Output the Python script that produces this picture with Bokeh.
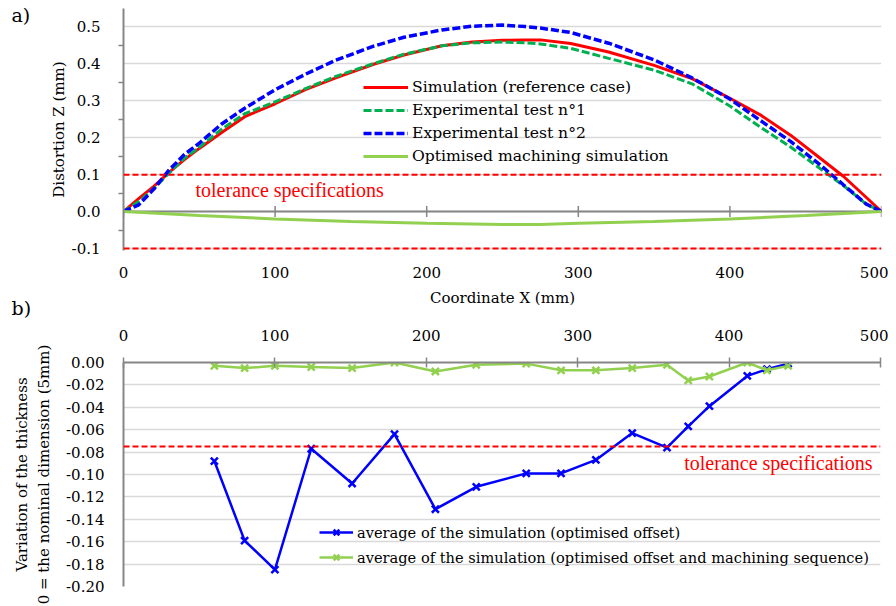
import math
from bokeh.plotting import figure
from bokeh.models import Span, Label, Legend, LegendItem, FixedTicker, PrintfTickFormatter, Range1d
from bokeh.layouts import column
from bokeh.embed import file_html
from bokeh.resources import INLINE
from bokeh.core.properties import value

FONT = "DejaVu Serif"
TOL_FONT = "Liberation Serif"
GRAY = "#868686"
GRID = "#d9d9d9"

# ---------------- panel a) data ----------------
x_a = [0, 10, 20, 30, 40, 50, 65, 80, 100, 120, 140, 165, 185, 210, 230, 250,
       265, 275, 295, 320, 350, 375, 400, 420, 440, 460, 475, 490, 500]
sim_ref = [0, 0.035, 0.068, 0.106, 0.140, 0.171, 0.215, 0.257, 0.292, 0.330, 0.362,
           0.399, 0.424, 0.449, 0.459, 0.464, 0.465, 0.465, 0.455, 0.432, 0.396,
           0.360, 0.307, 0.262, 0.207, 0.143, 0.095, 0.038, 0]
exp_test1 = [0, 0.027, 0.062, 0.104, 0.144, 0.174, 0.224, 0.265, 0.297, 0.333, 0.366,
             0.401, 0.426, 0.449, 0.457, 0.459, 0.457, 0.454, 0.442, 0.415, 0.383,
             0.346, 0.286, 0.229, 0.175, 0.115, 0.070, 0.020, 0]
exp_test2 = [0, 0.018, 0.061, 0.112, 0.154, 0.185, 0.238, 0.280, 0.330, 0.372, 0.410,
             0.448, 0.472, 0.492, 0.502, 0.505, 0.501, 0.497, 0.485, 0.456, 0.411,
             0.362, 0.305, 0.247, 0.190, 0.125, 0.072, 0.020, 0]
x_opt = [0, 50, 100, 150, 200, 250, 275, 300, 350, 400, 450, 500]
opt_sim = [0, -0.011, -0.020, -0.027, -0.032, -0.035, -0.035, -0.032, -0.027, -0.020, -0.011, 0]
tol_a = [0.1, -0.1]
x_ticks = [0, 100, 200, 300, 400, 500]
y_ticks_a = [-0.1, 0, 0.1, 0.2, 0.3, 0.4, 0.5]
y_minor_a = [-0.05, 0.05, 0.15, 0.25, 0.35, 0.45]
labels_a = ["Simulation (reference case)", "Experimental test n°1",
            "Experimental test n°2", "Optimised machining simulation"]

# ---------------- panel b) data ----------------
x_b = [60, 80, 100, 124, 151, 179, 206, 233, 266, 289, 312, 336, 359, 373, 387, 412, 425, 439]
avg_offset = [-0.088, -0.159, -0.185, -0.077, -0.108, -0.064, -0.131, -0.111, -0.099,
              -0.099, -0.087, -0.063, -0.076, -0.057, -0.039, -0.012, -0.006, -0.001]
avg_offset_seq = [-0.003, -0.005, -0.003, -0.004, -0.005, 0.000, -0.008, -0.002, -0.001,
                  -0.007, -0.007, -0.005, -0.002, -0.016, -0.0125, 0.000, -0.007, -0.003]
tol_b = -0.075
y_ticks_b = [0, -0.02, -0.04, -0.06, -0.08, -0.10, -0.12, -0.14, -0.16, -0.18, -0.20]
labels_b = ["average of the simulation (optimised offset)",
            "average of the simulation (optimised offset and machining sequence)"]


def style_text(ax):
    ax.major_label_text_font = FONT
    ax.major_label_text_font_size = "15px"
    ax.major_label_text_color = "black"
    ax.axis_label_text_font = FONT
    ax.axis_label_text_font_size = "15px"
    ax.axis_label_text_font_style = "normal"
    ax.axis_label_text_color = "black"


# ================= panel a =================
p1 = figure(frame_width=758, frame_height=242, x_range=Range1d(0, 500), y_range=Range1d(-0.1055, 0.55),
            output_backend="svg", toolbar_location=None,
            min_border_left=122, min_border_right=8, min_border_top=8, min_border_bottom=70)
p1.outline_line_color = None
p1.xgrid.visible = False
p1.ygrid.grid_line_color = GRID
p1.ygrid.grid_line_width = 1.5

yax = p1.yaxis[0]
yax.ticker = FixedTicker(ticks=y_ticks_a, minor_ticks=y_minor_a)
yax.formatter = PrintfTickFormatter(format="%.1f")
yax.axis_line_color = GRAY
yax.axis_line_width = 2
yax.major_tick_in = 0
yax.major_tick_out = 0
yax.minor_tick_in = 0
yax.minor_tick_out = 5
yax.minor_tick_line_color = GRAY
yax.minor_tick_line_width = 1.5
yax.major_label_standoff = 18
yax.axis_label = "Distortion Z (mm)"
yax.axis_label_standoff = 1
style_text(yax)

xax = p1.xaxis[0]
xax.ticker = FixedTicker(ticks=x_ticks)
xax.axis_line_color = None
xax.major_tick_in = 0
xax.major_tick_out = 0
xax.minor_tick_line_color = None
xax.major_label_standoff = 16
xax.axis_label = "Coordinate X (mm)"
xax.axis_label_standoff = 8
style_text(xax)

p1.add_layout(Span(location=0, dimension="width", line_color=GRAY, line_width=2, level="underlay"))
p1.scatter(x=x_ticks, y=[0] * len(x_ticks), marker="dash", angle=math.pi / 2, size=11,
           line_color=GRAY, line_width=1.5)
for t in tol_a:
    p1.add_layout(Span(location=t, dimension="width", line_color="#ff0000", line_width=2, line_dash="6 3"))

r_sim = p1.line(x_a, sim_ref, line_color="#ff0000", line_width=3)
r_e1 = p1.line(x_a, exp_test1, line_color="#00b050", line_width=3, line_dash="8 3")
r_e2 = p1.line(x_a, exp_test2, line_color="#0000ff", line_width=3.5, line_dash="8 3")
r_opt = p1.line(x_opt, opt_sim, line_color="#92d050", line_width=3)

leg1 = Legend(items=[LegendItem(label=value(l), renderers=[r]) for l, r in
                     zip(labels_a, [r_sim, r_e1, r_e2, r_opt])],
              location=(240, 84), padding=0, margin=0, border_line_color=None,
              background_fill_alpha=0, glyph_width=45, glyph_height=20, label_height=20,
              label_standoff=4, spacing=3, label_text_font=FONT, label_text_font_size="15.6px",
              label_text_color="black")
p1.add_layout(leg1)

p1.add_layout(Label(x=47.5, y=0.059, text="tolerance specifications", text_font=TOL_FONT,
                    text_font_size="20px", text_color="#ff0000", text_baseline="alphabetic"))
p1.add_layout(Label(x=-73.9, y=0.533, text="a)", text_font=FONT,
                    text_font_size="19px", text_color="black", text_baseline="alphabetic"), "left")
p1.add_layout(Label(x=-73.9, y=-0.260, text="b)", text_font=FONT,
                    text_font_size="19px", text_color="black", text_baseline="alphabetic"), "left")

# ================= panel b =================
p2 = figure(frame_width=757, frame_height=224, x_range=Range1d(0, 500), y_range=Range1d(-0.2, 0),
            x_axis_location="above", output_backend="svg", toolbar_location=None,
            min_border_left=123, min_border_right=8, min_border_top=42, min_border_bottom=20)
p2.outline_line_color = None
p2.xgrid.visible = False
p2.ygrid.grid_line_color = GRID
p2.ygrid.grid_line_width = 1.5

xb = p2.xaxis[0]
xb.ticker = FixedTicker(ticks=x_ticks)
xb.axis_line_color = GRAY
xb.axis_line_width = 2
xb.major_tick_in = 5
xb.major_tick_out = 5
xb.major_tick_line_color = GRAY
xb.major_tick_line_width = 1.5
xb.minor_tick_line_color = None
xb.major_label_standoff = 17
style_text(xb)

yb = p2.yaxis[0]
yb.ticker = FixedTicker(ticks=y_ticks_b)
yb.formatter = PrintfTickFormatter(format="%.2f")
yb.axis_line_color = GRAY
yb.axis_line_width = 2
yb.major_tick_in = 0
yb.major_tick_out = 0
yb.minor_tick_line_color = None
yb.major_label_standoff = 19
yb.axis_label = "Variation of the thickness\n0 = the nominal dimension (5mm)"
yb.axis_label_standoff = 10
style_text(yb)

p2.add_layout(Span(location=tol_b, dimension="width", line_color="#ff0000", line_width=2, line_dash="6 3"))

rb1 = p2.line(x_b, avg_offset, line_color="#0000ff", line_width=2.5)
sb1 = p2.scatter(x_b, avg_offset, marker="x", size=10, line_color="#0000ff", line_width=2.5)
rb2 = p2.line(x_b, avg_offset_seq, line_color="#92d050", line_width=2.5)
sb2 = p2.scatter(x_b, avg_offset_seq, marker="x", size=10, line_color="#92d050", line_width=2.5)

leg2 = Legend(items=[LegendItem(label=value(labels_b[0]), renderers=[rb1, sb1]),
                     LegendItem(label=value(labels_b[1]), renderers=[rb2, sb2])],
              location=(196, 19), padding=0, margin=0, border_line_color=None,
              background_fill_alpha=0, glyph_width=34, glyph_height=20, label_height=20,
              label_standoff=4, spacing=5, label_text_font=FONT, label_text_font_size="14.6px",
              label_text_color="black")
p2.add_layout(leg2)

p2.add_layout(Label(x=494.7, y=-0.0893, text="tolerance specifications", text_font=TOL_FONT,
                    text_font_size="20px", text_color="#ff0000", text_baseline="alphabetic",
                    text_align="right"))

layout = column(p1, p2, spacing=0)
open("out.html", "w").write(file_html(layout, INLINE))
